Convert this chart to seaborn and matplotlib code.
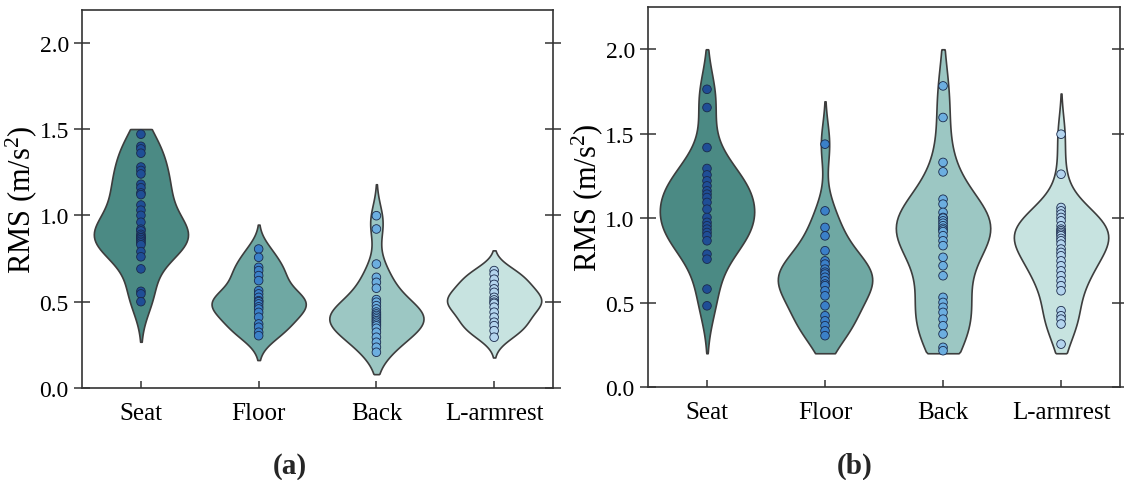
import numpy as np
import pandas as pd
import matplotlib
matplotlib.use("Agg")
import matplotlib.pyplot as plt
import seaborn as sns

# Measurement locations
locations = ["Seat", "Floor", "Back", "L-armrest"]

# Panel (a): RMS acceleration (m/s^2) per location
a_seat = [1.47, 1.40, 1.385, 1.36, 1.28, 1.26, 1.24, 1.18, 1.16, 1.13, 1.12,
          1.06, 1.03, 1.00, 0.96, 0.92, 0.91, 0.89, 0.88, 0.87, 0.87, 0.86,
          0.85, 0.84, 0.83, 0.79, 0.76, 0.69, 0.56, 0.545, 0.50]
a_floor = [0.805, 0.757, 0.699, 0.68, 0.651, 0.622, 0.564, 0.545, 0.525,
           0.506, 0.50, 0.487, 0.47, 0.458, 0.438, 0.41, 0.371, 0.352,
           0.323, 0.303]
a_back = [0.998, 0.921, 0.718, 0.641, 0.612, 0.578, 0.512, 0.497, 0.477,
          0.458, 0.44, 0.429, 0.42, 0.41, 0.40, 0.39, 0.381, 0.37, 0.36,
          0.346, 0.323, 0.294, 0.265, 0.236, 0.207]
a_armrest = [0.68, 0.66, 0.63, 0.60, 0.574, 0.554, 0.525, 0.51, 0.497,
             0.49, 0.468, 0.439, 0.41, 0.381, 0.361, 0.332, 0.294]

# Panel (b): RMS acceleration (m/s^2) per location
b_seat = [1.763, 1.655, 1.418, 1.294, 1.256, 1.221, 1.191, 1.162, 1.142,
          1.122, 1.093, 1.053, 1.004, 0.975, 0.955, 0.935, 0.915, 0.896,
          0.866, 0.787, 0.757, 0.580, 0.481]
b_floor = [1.438, 1.043, 0.945, 0.895, 0.807, 0.747, 0.728, 0.698, 0.68,
           0.669, 0.65, 0.629, 0.61, 0.60, 0.57, 0.54, 0.481, 0.422, 0.392,
           0.363, 0.333, 0.304]
b_back = [1.783, 1.596, 1.330, 1.274, 1.112, 1.083, 1.034, 1.004, 1.00,
          0.984, 0.97, 0.955, 0.94, 0.93, 0.92, 0.896, 0.866, 0.837, 0.768,
          0.718, 0.659, 0.531, 0.501, 0.472, 0.442, 0.402, 0.363, 0.314,
          0.235, 0.215]
b_armrest = [1.497, 1.26, 1.063, 1.043, 1.024, 1.004, 0.984, 0.955, 0.935,
             0.925, 0.915, 0.905, 0.896, 0.88, 0.866, 0.846, 0.817, 0.797,
             0.777, 0.747, 0.718, 0.688, 0.659, 0.629, 0.60, 0.57, 0.452,
             0.422, 0.402, 0.373, 0.254]

yticks = [0.0, 0.5, 1.0, 1.5, 2.0]
panel_labels = ["(a)", "(b)"]

violin_colors = ["#4b8a84", "#6fa8a3", "#9cc7c3", "#c7e3e0"]
point_colors = ["#1f4e96", "#3b80c8", "#6caee0", "#b3d4ee"]


def long_frame(groups):
    rows = []
    for loc, vals in zip(locations, groups):
        rows += [(loc, v) for v in vals]
    return pd.DataFrame(rows, columns=["location", "rms"])


sns.set_theme(style="ticks")
plt.rcParams["font.family"] = ["Liberation Serif", "DejaVu Serif"]
plt.rcParams["mathtext.fontset"] = "custom"
plt.rcParams["mathtext.rm"] = "Liberation Serif"
plt.rcParams["mathtext.default"] = "regular"

fig = plt.figure(figsize=(11.24, 4.81), dpi=100)
ax_a = fig.add_axes([0.0730, 0.1913, 0.4190, 0.7860])
ax_b = fig.add_axes([0.5765, 0.1933, 0.4200, 0.7900])

panels = [
    (ax_a, long_frame([a_seat, a_floor, a_back, a_armrest]), (0, 2.19), (0.08, 1.5)),
    (ax_b, long_frame([b_seat, b_floor, b_back, b_armrest]), (0, 2.25), (0.2, 2.0)),
]

for ax, df, ylim, clamp in panels:
    sns.violinplot(data=df, x="location", y="rms", hue="location",
                   order=locations, hue_order=locations,
                   palette=violin_colors, inner=None, density_norm="width",
                   width=0.8, linewidth=1.2, linecolor="#3d3d3d",
                   saturation=1, cut=2, bw_adjust=0.9, legend=False, ax=ax)
    # trim the density outlines to the measurement range
    for coll in ax.collections:
        for p in coll.get_paths():
            v = p.vertices
            v[:, 1] = np.clip(v[:, 1], clamp[0], clamp[1])
    sns.stripplot(data=df, x="location", y="rms", hue="location",
                  order=locations, hue_order=locations,
                  palette=point_colors, jitter=False, size=6.2,
                  linewidth=0.6, edgecolor="#1a2a4c", legend=False,
                  zorder=3, ax=ax)

    ax.set_xlim(-0.5, 3.5)
    ax.set_ylim(*ylim)
    ax.set_yticks(yticks)
    ax.set_yticklabels([f"{t:.1f}" for t in yticks])
    ax.set_xlabel("")
    ax.set_ylabel("RMS (m/s$^2$)", fontsize=22, labelpad=0, color="black")
    ax.tick_params(axis="y", direction="inout", length=12, width=1.1,
                   labelsize=17, right=True, color="#333333",
                   labelcolor="black")
    ax.tick_params(axis="x", direction="in", length=5, width=1.1,
                   labelsize=18, pad=10, color="#333333", labelcolor="black")
    for s in ax.spines.values():
        s.set_visible(True)
        s.set_linewidth(1.2)
        s.set_color("#333333")

fig.text(290 / 1124, 1 - 466 / 481, panel_labels[0], ha="center", va="center",
         fontsize=21, fontweight="bold")
fig.text(855 / 1124, 1 - 466 / 481, panel_labels[1], ha="center", va="center",
         fontsize=21, fontweight="bold")

fig.savefig("out.png", dpi=100)
